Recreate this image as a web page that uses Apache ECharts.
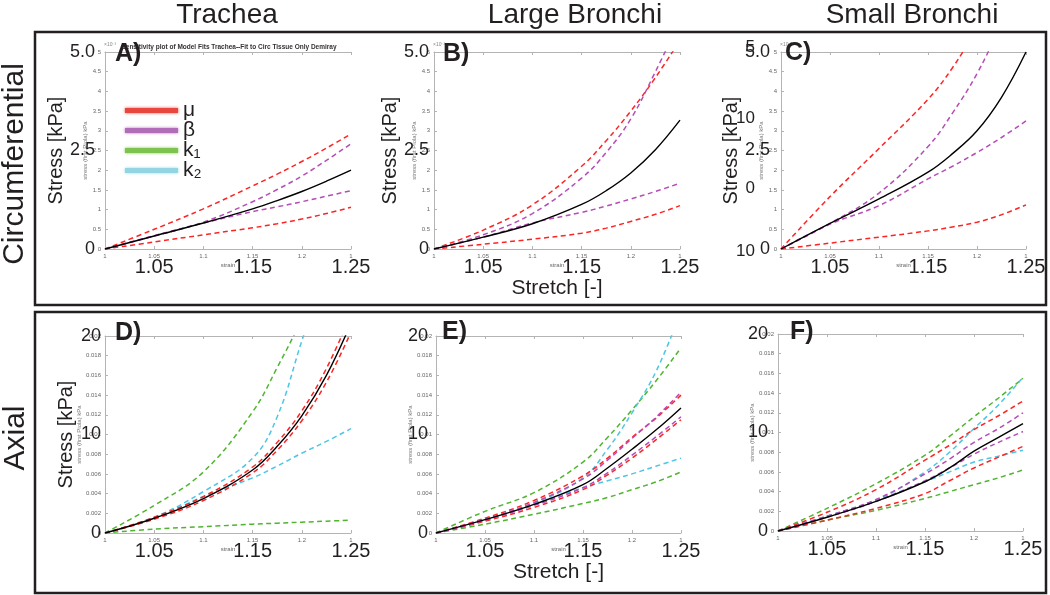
<!DOCTYPE html>
<html>
<head>
<meta charset="utf-8">
<script src="https://cdn.jsdelivr.net/npm/echarts@6/dist/echarts.min.js"></script>
<style>
  html, body { margin: 0; padding: 0; background: #fff; }
  #chart { width: 1050px; height: 595px; }
</style>
</head>
<body>
<div id="chart"></div>
<script>
const stretch = [1, 1.05, 1.1, 1.15, 1.175, 1.2, 1.225, 1.25];

// A) trachea, circumferential (x10^-3)
const aFit = [0, 0.33, 0.66, 1.02, 1.23, 1.46, 1.72, 2.0];
const aMuHi = [0, 0.5, 1.02, 1.6, 1.9, 2.22, 2.56, 2.92];
const aMuLo = [0, 0.18, 0.36, 0.54, 0.64, 0.76, 0.9, 1.06];
const aBetaHi = [0, 0.33, 0.68, 1.2, 1.51, 1.85, 2.25, 2.67];
const aBetaLo = [0, 0.34, 0.66, 0.95, 1.07, 1.2, 1.34, 1.48];

// B) large bronchi, circumferential
const bFit = [0, 0.3, 0.64, 1.13, 1.48, 1.93, 2.52, 3.27];
const bMuHi = [0, 0.48, 1.12, 2.1, 2.75, 3.5, 4.35, 5.3];
const bMuLo = [0, 0.12, 0.25, 0.4, 0.53, 0.7, 0.88, 1.1];
const bBetaHi = [0, 0.36, 0.9, 1.8, 2.45, 3.3, 4.5, 5.8];
const bBetaLo = [0, 0.3, 0.66, 0.93, 1.09, 1.27, 1.46, 1.67];

// C) small bronchi, circumferential
const cFit = [0, 0.65, 1.27, 1.95, 2.42, 3.0, 3.85, 5.0];
const cMuHi = [0, 1.33, 2.55, 3.8, 4.6, 5.6, 6.6, 7.7];
const cMuLo = [0, 0.15, 0.3, 0.46, 0.56, 0.68, 0.87, 1.12];
const cBetaHi = [0, 0.65, 1.42, 2.6, 3.45, 4.45, 5.7, 6.9];
const cBetaLo = [0, 0.63, 1.1, 1.78, 2.1, 2.45, 2.83, 3.25];

// D) trachea, axial
const dFit = [0, 0.0015, 0.0035, 0.0064, 0.0088, 0.0119, 0.016, 0.0213];
const dMuHi = [0, 0.0016, 0.0037, 0.0067, 0.0092, 0.0124, 0.0167, 0.0222];
const dMuLo = [0, 0.0014, 0.0033, 0.0061, 0.0084, 0.0114, 0.0153, 0.0204];
const dK1Hi = [0, 0.0028, 0.0062, 0.0123, 0.0168, 0.0218, 0.028, 0.035];
const dK1Lo = [0, 0.0004, 0.00064, 0.0009, 0.001, 0.0011, 0.0012, 0.0013];
const dK2Hi = [0, 0.0016, 0.0042, 0.0076, 0.0118, 0.0195, 0.027, 0.035];
const dK2Lo = [0, 0.0015, 0.0037, 0.0056, 0.0068, 0.0081, 0.0093, 0.0106];

// E) large bronchi, axial
const eFit = [0, 0.00135, 0.0029, 0.0049, 0.0066, 0.0085, 0.0105, 0.0127];
const eMuHi = [0, 0.0015, 0.0033, 0.0058, 0.0076, 0.0097, 0.0117, 0.014];
const eMuLo = [0, 0.0012, 0.0026, 0.0044, 0.0059, 0.0076, 0.0095, 0.0115];
const eBetaHi = [0, 0.0014, 0.0031, 0.0055, 0.0074, 0.0096, 0.0118, 0.0143];
const eBetaLo = [0, 0.0013, 0.0028, 0.0046, 0.0061, 0.0079, 0.0098, 0.0118];
const eK1Hi = [0, 0.0022, 0.0041, 0.0072, 0.0097, 0.0125, 0.0155, 0.0188];
const eK1Lo = [0, 0.0009, 0.0019, 0.003, 0.0036, 0.0044, 0.0052, 0.0062];
const eK2Hi = [0, 0.0014, 0.003, 0.0056, 0.0085, 0.0122, 0.0165, 0.0225];
const eK2Lo = [0, 0.0013, 0.0029, 0.0046, 0.0053, 0.006, 0.0068, 0.0076];

// F) small bronchi, axial
const fFit = [0, 0.0014, 0.003, 0.005, 0.0064, 0.0081, 0.0095, 0.0109];
const fMuHi = [0, 0.0019, 0.0042, 0.0072, 0.0087, 0.0103, 0.0117, 0.0132];
const fMuLo = [0, 0.0011, 0.0023, 0.0038, 0.0051, 0.0064, 0.0075, 0.0086];
const fBetaHi = [0, 0.0015, 0.0032, 0.0058, 0.0073, 0.009, 0.0104, 0.012];
const fBetaLo = [0, 0.0014, 0.003, 0.0051, 0.0064, 0.0078, 0.009, 0.0101];
const fK1Hi = [0, 0.0023, 0.0048, 0.0077, 0.0096, 0.0116, 0.0135, 0.0155];
const fK1Lo = [0, 0.0011, 0.0021, 0.0033, 0.004, 0.0047, 0.0054, 0.0062];
const fK2Hi = [0, 0.0015, 0.0031, 0.006, 0.008, 0.0104, 0.0128, 0.0156];
const fK2Lo = [0, 0.0015, 0.0031, 0.005, 0.006, 0.007, 0.0076, 0.0082];

// tick labels
const bigXTicks = [1.05, 1.15, 1.25];
const bigXLabels = ['1.05', '1.15', '1.25'];
const circBigYLabels = ['0', '2.5', '5.0'];
const axialBigYLabels = ['0', '10', '20'];
const cExtraLabels = ['5', '10', '0', '10'];
const legendNames = ['μ', 'β', 'k₁', 'k₂'];
const legendColors = ['#e8473f', '#b26db8', '#7ec34f', '#92d6e3'];

const colorOf = { 'μ': '#ff2424', 'β': '#b64cb6', 'k₁': '#4fb52f', 'k₂': '#4cc6e4', 'fit': '#000' };

const panelSeries = [
  [[aMuHi, 'μ'], [aMuLo, 'μ'], [aBetaHi, 'β'], [aBetaLo, 'β'], [aFit, 'fit']],
  [[bMuHi, 'μ'], [bMuLo, 'μ'], [bBetaHi, 'β'], [bBetaLo, 'β'], [bFit, 'fit']],
  [[cMuHi, 'μ'], [cMuLo, 'μ'], [cBetaHi, 'β'], [cBetaLo, 'β'], [cFit, 'fit']],
  [[dK1Hi, 'k₁'], [dK1Lo, 'k₁'], [dK2Hi, 'k₂'], [dK2Lo, 'k₂'], [dMuHi, 'μ'], [dMuLo, 'μ'], [dFit, 'fit']],
  [[eK1Hi, 'k₁'], [eK1Lo, 'k₁'], [eK2Hi, 'k₂'], [eK2Lo, 'k₂'], [eMuHi, 'μ'], [eMuLo, 'μ'], [eBetaHi, 'β'], [eBetaLo, 'β'], [eFit, 'fit']],
  [[fK1Hi, 'k₁'], [fK1Lo, 'k₁'], [fK2Hi, 'k₂'], [fK2Lo, 'k₂'], [fMuHi, 'μ'], [fMuLo, 'μ'], [fBetaHi, 'β'], [fBetaLo, 'β'], [fFit, 'fit']]
];

// layout of the six panels
const panels = [
  { grid: { left: 105, top: 52, width: 246, height: 197 }, axial: false, bigMargin: 10, stressGap: 31, smallGap: 12, letter: 'A)', lx: 115, ly: 54 },
  { grid: { left: 434, top: 52, width: 246, height: 197 }, axial: false, bigMargin: 5, stressGap: 31, smallGap: 12, letter: 'B)', lx: 443, ly: 54, stretchName: true },
  { grid: { left: 781, top: 52, width: 245, height: 197 }, axial: false, bigMargin: 11, stressGap: 37, smallGap: 12, letter: 'C)', lx: 785, ly: 53 },
  { grid: { left: 105, top: 336, width: 246, height: 197 }, axial: true, bigMargin: 4, stressGap: 29, smallGap: 19, letter: 'D)', lx: 115, ly: 333 },
  { grid: { left: 436, top: 336, width: 245, height: 197 }, axial: true, bigMargin: 8, stressGap: null, smallGap: 20, letter: 'E)', lx: 442, ly: 332, stretchName: true },
  { grid: { left: 778, top: 334, width: 245, height: 197 }, axial: true, bigMargin: 10, stressGap: null, smallGap: 19, letter: 'F)', lx: 790, ly: 332 }
];

const FONT = 'Liberation Sans, Arial, sans-serif';
const GREY = '#b4b4b4';
const INK = '#231f20';

const grids = [], xAxes = [], yAxes = [], series = [];

panels.forEach((p, i) => {
  grids.push(p.grid);

  // small matlab axis
  xAxes.push({
    type: 'value', gridIndex: i, min: 1, max: 1.25, interval: 0.05, position: 'bottom',
    axisLine: { onZero: false, lineStyle: { color: GREY, width: 1 } },
    axisTick: { inside: true, length: 3, lineStyle: { color: GREY } },
    axisLabel: {
      fontSize: 6, color: '#666', margin: 4, fontFamily: FONT,
      formatter: v => Math.abs(v - 1.25) < 1e-6 ? '1' : String(+v.toFixed(2))
    },
    splitLine: { show: false },
    name: 'strain', nameLocation: 'middle', nameGap: 13,
    nameTextStyle: { fontSize: 6, color: '#666', fontFamily: FONT }
  });
  // big overlay labels
  xAxes.push({
    type: 'value', gridIndex: i, min: 1, max: 1.25, interval: 0.05, position: 'bottom',
    axisLine: { show: false, onZero: false }, axisTick: { show: false }, splitLine: { show: false },
    axisLabel: {
      fontSize: 20, color: INK, margin: 8, fontFamily: FONT, showMaxLabel: true,
      formatter: v => {
        const k = bigXTicks.findIndex(t => Math.abs(t - v) < 1e-6);
        return k >= 0 ? bigXLabels[k] : '';
      }
    },
    name: p.stretchName ? 'Stretch [-]' : '', nameLocation: 'middle', nameGap: 27,
    nameTextStyle: { fontSize: 21, color: INK, fontFamily: FONT }
  });
  // top box line
  xAxes.push({
    type: 'value', gridIndex: i, min: 1, max: 1.25, interval: 0.05, position: 'top',
    axisLine: { onZero: false, lineStyle: { color: GREY, width: 1 } },
    axisTick: { inside: true, length: 3, lineStyle: { color: GREY } },
    axisLabel: { show: false }, splitLine: { show: false }
  });

  const yMax = p.axial ? 0.02 : 5;
  yAxes.push({
    type: 'value', gridIndex: i, min: 0, max: yMax, interval: p.axial ? 0.002 : 0.5, position: 'left',
    axisLine: { show: true, onZero: false, lineStyle: { color: GREY, width: 1 } },
    axisTick: { show: true, inside: true, length: 3, lineStyle: { color: GREY } },
    axisLabel: { fontSize: 6, color: '#666', margin: 4, fontFamily: FONT },
    splitLine: { show: false },
    name: 'stress (first Piola) kPa', nameLocation: 'middle', nameGap: p.smallGap,
    nameTextStyle: { fontSize: 6, color: '#777', fontFamily: FONT }
  });
  yAxes.push({
    type: 'value', gridIndex: i, min: 0, max: yMax, interval: p.axial ? 0.01 : 2.5, position: 'left',
    axisLine: { show: false, onZero: false }, axisTick: { show: false }, splitLine: { show: false },
    axisLabel: {
      fontSize: 18, color: INK, margin: p.bigMargin, fontFamily: FONT,
      formatter: v => p.axial ? axialBigYLabels[Math.round(v / 0.01)] : circBigYLabels[Math.round(v / 2.5)]
    },
    name: p.stressGap ? 'Stress [kPa]' : '', nameLocation: 'middle', nameGap: p.stressGap || 0,
    nameTextStyle: { fontSize: 20, color: INK, fontFamily: FONT }
  });

  panelSeries[i].forEach(([ys, name]) => {
    const isFit = name === 'fit';
    series.push({
      type: 'line', name: name, xAxisIndex: 3 * i, yAxisIndex: 2 * i,
      data: stretch.map((x, k) => [x, ys[k]]),
      showSymbol: false, symbol: 'none', smooth: 0.4, clip: true, silent: true,
      lineStyle: { color: colorOf[name], width: isFit ? 1.4 : 1.5, type: isFit ? 'solid' : [5, 3.5] },
      z: isFit ? 4 : 3
    });
  });
});

const txt = (x, y, text, style, extra) => Object.assign({
  type: 'text', x: x, y: y, z: 100,
  style: Object.assign({ text: text, fill: INK, font: '28px ' + FONT, textAlign: 'center', textVerticalAlign: 'middle' }, style)
}, extra || {});

const graphics = [
  { type: 'rect', z: 90, shape: { x: 35, y: 32, width: 1011, height: 273 }, style: { fill: 'none', stroke: INK, lineWidth: 2.5 } },
  { type: 'rect', z: 90, shape: { x: 35, y: 312, width: 1011, height: 281 }, style: { fill: 'none', stroke: INK, lineWidth: 2.5 } },
  txt(227, 15, 'Trachea'),
  txt(575, 15, 'Large Bronchi'),
  txt(912, 15, 'Small Bronchi'),
  txt(15, 164, 'Circumferential', { font: '30px ' + FONT }, { rotation: Math.PI / 2 }),
  txt(16, 438, 'Axial', { font: '30px ' + FONT }, { rotation: Math.PI / 2 }),
  txt(229, 47, 'Sensitivity plot of Model Fits Trachea--Fit to Circ Tissue Only Demiray',
    { font: 'bold 6.5px ' + FONT, fill: '#333' }, { z: 50 })
];
panels.forEach((p, i) => {
  graphics.push(txt(p.lx, p.ly, p.letter, { font: 'bold 25px ' + FONT, textAlign: 'left' }));
  if (!p.axial) {
    graphics.push(txt(p.grid.left - 1, p.grid.top - 7, '×10⁻³', { font: '5px ' + FONT, fill: '#888', textAlign: 'left' }, { z: 40 }));
  }
});
// stray overlapping labels in panel C
[47, 118, 188, 251].forEach((y, k) => {
  graphics.push(txt(755, y, cExtraLabels[k], { font: '17px ' + FONT, textAlign: 'right' }));
});

const chart = echarts.init(document.getElementById('chart'), null, { renderer: 'canvas' });
chart.setOption({
  animation: false,
  backgroundColor: '#fff',
  textStyle: { fontFamily: FONT },
  legend: {
    left: 120, top: 95, orient: 'vertical', selectedMode: false,
    itemWidth: 53, itemHeight: 5, itemGap: -1,
    textStyle: { fontSize: 21, lineHeight: 16, color: INK, fontFamily: FONT },
    data: legendNames.map((n, k) => ({
      name: n, icon: 'rect',
      itemStyle: { color: legendColors[k], borderWidth: 0, shadowBlur: 3, shadowColor: legendColors[k] }
    }))
  },
  grid: grids,
  xAxis: xAxes,
  yAxis: yAxes,
  series: series,
  graphic: graphics
});
</script>
</body>
</html>
